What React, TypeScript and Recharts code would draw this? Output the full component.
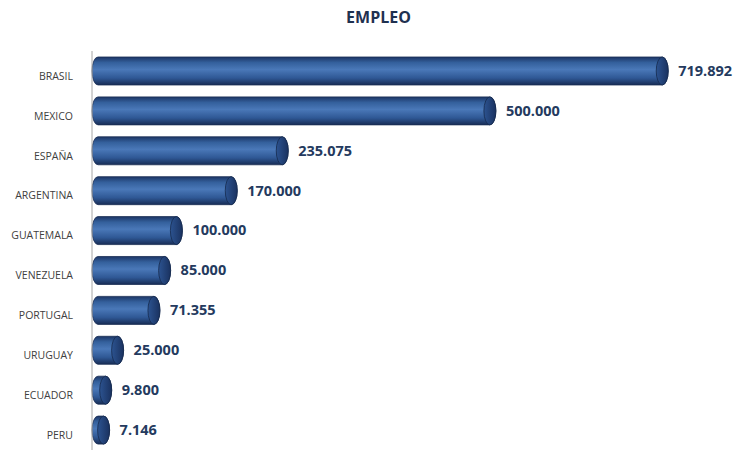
import React from "react";
import { BarChart, Bar, XAxis, YAxis, LabelList } from "recharts";

const countries = ["BRASIL", "MEXICO", "ESPAÑA", "ARGENTINA", "GUATEMALA", "VENEZUELA", "PORTUGAL", "URUGUAY", "ECUADOR", "PERU"];
const empleo = [719892, 500000, 235075, 170000, 100000, 85000, 71355, 25000, 9800, 7146];
const valueLabels = ["719.892", "500.000", "235.075", "170.000", "100.000", "85.000", "71.355", "25.000", "9.800", "7.146"];

const data = countries.map((c, i) => ({ name: c, value: empleo[i], label: valueLabels[i] }));

const RX = 6;

const Cylinder = (props: any) => {
  const { x, y, width, height } = props;
  const cy = y + height / 2;
  const ry = height / 2;
  const x0 = x + RX;
  const x1 = x + RX + Math.max(width, 0);
  return (
    <g>
      <path
        d={`M ${x0} ${y} L ${x1} ${y} A ${RX} ${ry} 0 0 1 ${x1} ${y + height} L ${x0} ${y + height} A ${RX} ${ry} 0 0 1 ${x0} ${y} Z`}
        fill="url(#cylGrad)"
        stroke="#1a2f55"
        strokeWidth={0.8}
      />
      <ellipse cx={x1} cy={cy} rx={RX} ry={ry} fill="url(#capGrad)" stroke="#152a4d" strokeWidth={0.8} />
    </g>
  );
};

const ValueLabel = (props: any) => {
  const { x, y, width, height, value } = props;
  return (
    <text
      x={x + width + 2 * RX + 10}
      y={y + height / 2 + 1}
      dominantBaseline="middle"
      fontFamily="'Open Sans', sans-serif"
      fontWeight={700}
      fontSize={14.5}
      fill="#243a5e"
    >
      {value}
    </text>
  );
};

const CatTick = (props: any) => {
  const { x, y, payload } = props;
  return (
    <text
      x={x - 11}
      y={y + 6}
      textAnchor="end"
      dominantBaseline="middle"
      fontFamily="'Open Sans', sans-serif"
      fontSize={10.5}
      fill="#404040"
    >
      {payload.value}
    </text>
  );
};

export default function App() {
  return (
    <div style={{ position: "absolute", left: 0, top: 0, width: 737, height: 454, background: "#fff" }}>
      <div
        style={{
          position: "absolute",
          left: 0,
          top: 6,
          width: 757,
          textAlign: "center",
          fontFamily: "'Open Sans', sans-serif",
          fontWeight: 700,
          fontSize: 16,
          color: "#1f3150",
        }}
      >
        EMPLEO
      </div>
      <BarChart
        width={737}
        height={454}
        data={data}
        layout="vertical"
        margin={{ top: 51, right: 18, bottom: 4, left: 0 }}
        barCategoryGap="15%"
      >
        <defs>
          <linearGradient id="cylGrad" x1="0" y1="0" x2="0" y2="1">
            <stop offset="0%" stopColor="#1c3565" />
            <stop offset="20%" stopColor="#34609c" />
            <stop offset="45%" stopColor="#4a78b8" />
            <stop offset="75%" stopColor="#2f5895" />
            <stop offset="100%" stopColor="#172c55" />
          </linearGradient>
          <linearGradient id="capGrad" x1="0" y1="0" x2="1" y2="0">
            <stop offset="0%" stopColor="#2c5390" />
            <stop offset="100%" stopColor="#1a3260" />
          </linearGradient>
        </defs>
        <XAxis type="number" domain={[0, 800000]} hide />
        <YAxis
          type="category"
          dataKey="name"
          width={92}
          axisLine={{ stroke: "#a6a6a6" }}
          tickLine={false}
          tick={<CatTick />}
          interval={0}
        />
        <Bar dataKey="value" shape={<Cylinder />} isAnimationActive={false}>
          <LabelList dataKey="label" content={<ValueLabel />} />
        </Bar>
      </BarChart>
    </div>
  );
}
